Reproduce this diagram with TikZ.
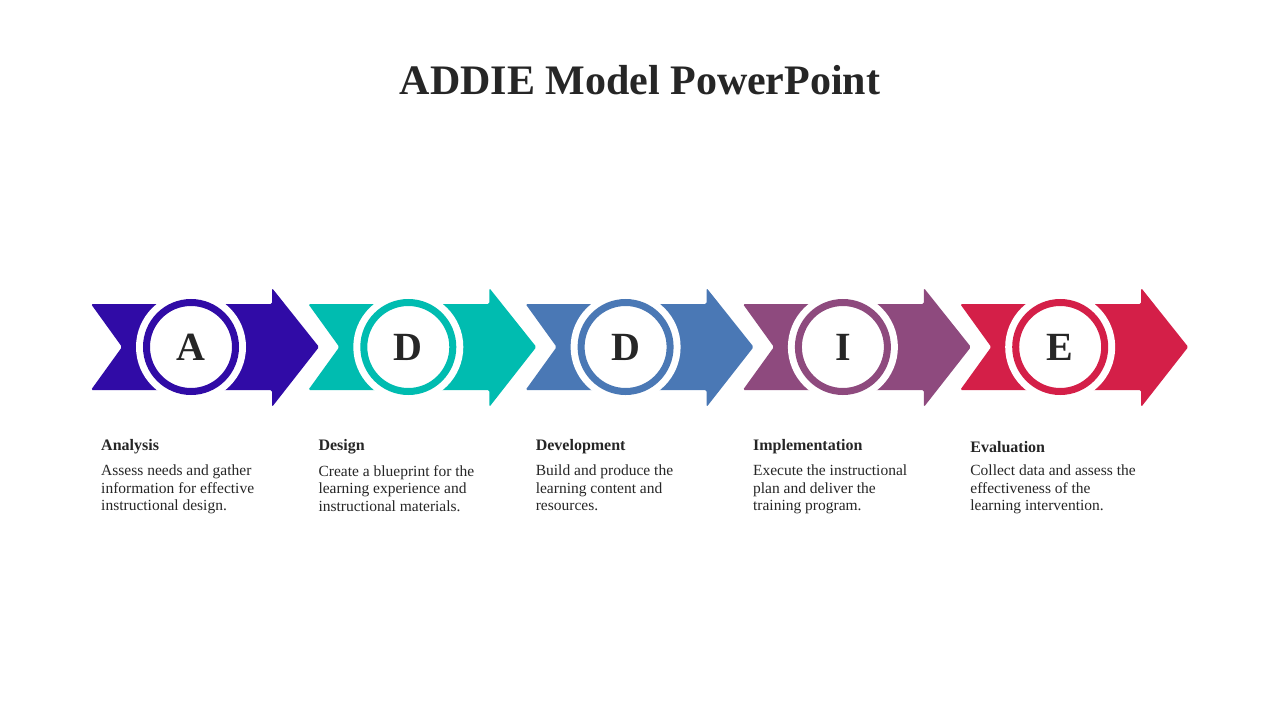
\documentclass[tikz,border=0pt]{standalone}
\usepackage{fontspec}
\setmainfont{Liberation Serif}
\definecolor{cA}{HTML}{300BA6}
\definecolor{cB}{HTML}{00BCB0}
\definecolor{cC}{HTML}{4A78B5}
\definecolor{cD}{HTML}{8E4A7E}
\definecolor{cE}{HTML}{D41F48}
\definecolor{txt}{HTML}{262626}
\tikzset{
 head/.style={anchor=west,inner sep=0,font=\fontsize{16}{18}\selectfont\bfseries,text=txt},
 body/.style={anchor=north west,inner sep=0,align=left,font=\fontsize{15.5}{17.5}\selectfont,text=txt},
 letter/.style={font=\fontsize{40}{40}\selectfont\bfseries,text=txt}
}
\begin{document}
\begin{tikzpicture}[x=1pt,y=-1pt]
\useasboundingbox (0,0) rectangle (1280,720);
\node[font=\fontsize{42}{44}\selectfont\bfseries,text=txt] (title) at (640,80) {ADDIE Model PowerPoint};
\foreach \i/\c/\L/\H/\B in {0/cA/A/Analysis/{Assess needs and gather\\information for effective\\instructional design.},
 1/cB/D/Design/{Create a blueprint for the\\learning experience and\\instructional materials.},
 2/cC/D/Development/{Build and produce the\\learning content and\\resources.},
 3/cD/I/Implementation/{Execute the instructional\\plan and deliver the\\training program.},
 4/cE/E/Evaluation/{Collect data and assess the\\effectiveness of the\\learning intervention.}}{
 \pgfmathsetmacro{\x}{91+217.3*\i}
 \fill[\c,rounded corners=1.5] (\x,304) -- (\x+181,304) -- (\x+181,288) -- (\x+228,347) -- (\x+181,407) -- (\x+181,390) -- (\x,390) -- (\x+31,347) -- cycle;
 \fill[white] (\x+100,347) circle (55);
 \draw[\c,line width=7] (\x+100,347) circle (44.5);
 \node[letter] (l\i) at (\x+100,347) {\L};
 \node[head] (h\i) at (\x+10,447) {\H};
 \node[body] (b\i) at (\x+10,465) {\B};
}
\end{tikzpicture}
\end{document}
